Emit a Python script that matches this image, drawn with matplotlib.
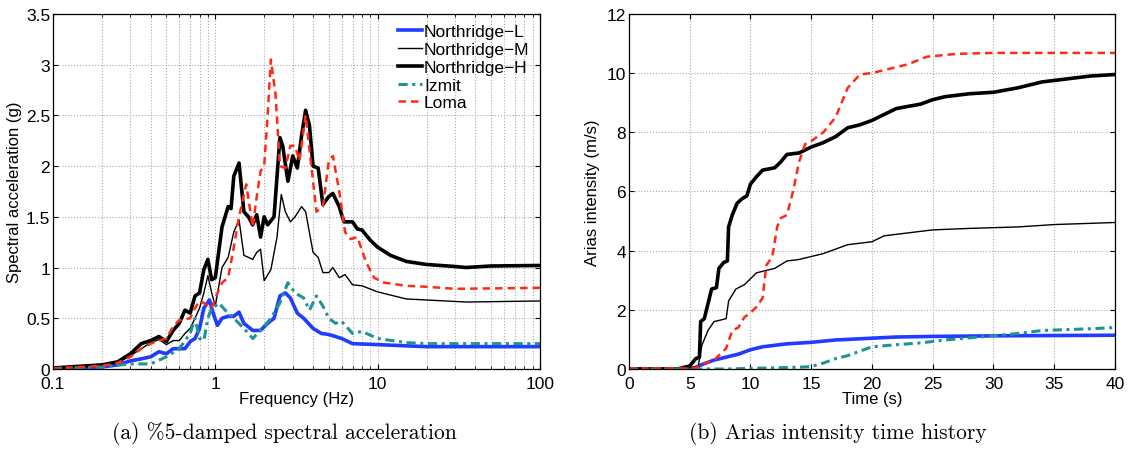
import matplotlib
matplotlib.use("Agg")
import matplotlib.pyplot as plt
import numpy as np

plt.rcParams['font.family'] = ['Liberation Sans', 'DejaVu Sans']

# ---- (a) spectral acceleration ----
f_H = [0.1, 0.2, 0.25, 0.3, 0.35, 0.4, 0.45, 0.5, 0.55, 0.6, 0.65, 0.7, 0.75, 0.8, 0.85, 0.9, 0.95, 1.0,
       1.1, 1.2, 1.25, 1.3, 1.4, 1.5, 1.6, 1.7, 1.8, 1.9, 2.0, 2.1, 2.3, 2.5, 2.6, 2.8, 3.0, 3.2, 3.4, 3.6,
       3.8, 4.0, 4.3, 4.6, 5.0, 5.3, 5.8, 6.2, 7.0, 7.5, 8.0, 9.0, 10, 12, 15, 20, 30, 35, 50, 100]
sa_H = [0.01, 0.04, 0.07, 0.15, 0.25, 0.28, 0.32, 0.27, 0.38, 0.45, 0.58, 0.55, 0.72, 0.75, 0.98, 1.08, 0.88, 0.9,
        1.4, 1.6, 1.58, 1.9, 2.03, 1.55, 1.5, 1.42, 1.52, 1.3, 1.5, 1.42, 1.5, 2.28, 2.2, 1.85, 2.1, 1.98, 2.3, 2.55,
        2.4, 2.0, 1.98, 1.62, 1.7, 1.73, 1.6, 1.45, 1.45, 1.38, 1.37, 1.27, 1.2, 1.12, 1.06, 1.03, 1.01, 1.0, 1.015, 1.02]

f_M = [0.1, 0.25, 0.3, 0.35, 0.4, 0.45, 0.5, 0.55, 0.6, 0.65, 0.7, 0.75, 0.8, 0.85, 0.9, 0.95, 1.0,
       1.1, 1.2, 1.3, 1.4, 1.5, 1.6, 1.7, 1.8, 1.9, 2.0, 2.2, 2.4, 2.55, 2.7, 2.9, 3.1, 3.4, 3.6,
       4.0, 4.3, 4.6, 5.0, 5.3, 5.8, 6.3, 7.0, 8.0, 10, 15, 20, 35, 100]
sa_M = [0.01, 0.06, 0.13, 0.2, 0.26, 0.29, 0.24, 0.28, 0.28, 0.35, 0.4, 0.5, 0.6, 0.75, 0.92, 0.75, 0.62,
        1.0, 1.1, 1.35, 1.47, 1.12, 1.1, 1.08, 1.15, 1.18, 0.87, 0.98, 1.3, 1.72, 1.55, 1.45, 1.5, 1.6, 1.55,
        1.15, 1.1, 0.95, 0.95, 1.0, 0.9, 0.93, 0.83, 0.82, 0.76, 0.69, 0.68, 0.66, 0.67]

f_Lo = [0.1, 0.2, 0.25, 0.3, 0.35, 0.4, 0.45, 0.5, 0.55, 0.6, 0.7, 0.75, 0.8, 0.85, 0.95, 1.0, 1.1, 1.2,
        1.3, 1.4, 1.55, 1.7, 1.8, 1.9, 2.0, 2.1, 2.2, 2.35, 2.5, 2.7, 2.9, 3.1, 3.3, 3.6, 3.9, 4.2, 4.6,
        5.0, 5.3, 5.8, 6.3, 6.8, 7.5, 8.5, 9.5, 11, 15, 20, 30, 100]
sa_Lo = [0.005, 0.03, 0.06, 0.12, 0.2, 0.25, 0.28, 0.3, 0.42, 0.48, 0.5, 0.6, 0.67, 0.65, 0.6, 0.7, 0.85, 0.9,
         1.2, 1.5, 1.82, 1.4, 1.7, 1.95, 2.0, 2.5, 3.05, 2.7, 2.0, 1.98, 2.2, 2.2, 2.05, 2.5, 2.0, 1.55, 1.6,
         2.05, 2.1, 1.75, 1.35, 1.28, 1.3, 1.05, 0.9, 0.85, 0.82, 0.81, 0.79, 0.8]

f_L = [0.1, 0.2, 0.25, 0.3, 0.35, 0.4, 0.45, 0.5, 0.55, 0.6, 0.65, 0.7, 0.75, 0.8, 0.85, 0.92, 0.97, 1.03,
       1.1, 1.2, 1.3, 1.4, 1.5, 1.7, 1.9, 2.1, 2.3, 2.5, 2.7, 2.9, 3.2, 3.5, 4.0, 4.5, 5.0, 5.5, 6.0, 7.0,
       10, 20, 100]
sa_L = [0.005, 0.02, 0.04, 0.08, 0.1, 0.12, 0.17, 0.15, 0.2, 0.2, 0.2, 0.27, 0.3, 0.4, 0.6, 0.68, 0.55, 0.43,
        0.5, 0.52, 0.52, 0.56, 0.45, 0.38, 0.38, 0.45, 0.5, 0.72, 0.75, 0.7, 0.55, 0.5, 0.4, 0.35, 0.34, 0.32, 0.3, 0.25,
        0.24, 0.22, 0.22]

f_I = [0.1, 0.2, 0.3, 0.4, 0.5, 0.6, 0.7, 0.75, 0.8, 0.85, 0.9, 0.95, 1.0, 1.05, 1.15, 1.3, 1.5, 1.7, 1.9,
       2.2, 2.5, 2.8, 3.1, 3.5, 3.8, 4.2, 4.6, 5.0, 5.5, 6.0, 7.0, 8.0, 10, 15, 20, 100]
sa_I = [0.005, 0.02, 0.05, 0.05, 0.12, 0.2, 0.35, 0.5, 0.3, 0.28, 0.5, 0.6, 0.62, 0.65, 0.58, 0.5, 0.4, 0.3, 0.38,
        0.5, 0.65, 0.85, 0.75, 0.7, 0.58, 0.72, 0.62, 0.5, 0.45, 0.47, 0.35, 0.37, 0.3, 0.26, 0.25, 0.25]

# ---- (b) Arias intensity ----
t_H = [0, 4, 5, 5.5, 5.8, 5.9, 6.2, 6.5, 6.8, 7.2, 7.4, 7.8, 8.1, 8.2, 8.5, 8.9, 9.3, 9.7, 10, 10.5, 11, 12,
       12.5, 13, 14, 15, 16, 17, 18, 19, 20, 21, 22, 24, 25, 26, 28, 30, 32, 34, 36, 38, 40]
ia_H = [0, 0, 0.1, 0.35, 0.4, 1.6, 1.7, 2.2, 2.7, 2.75, 3.4, 3.6, 3.65, 4.8, 5.2, 5.6, 5.75, 5.85, 6.25, 6.5, 6.72, 6.8,
        7.0, 7.25, 7.3, 7.5, 7.65, 7.85, 8.15, 8.25, 8.4, 8.6, 8.8, 8.95, 9.1, 9.2, 9.3, 9.35, 9.5, 9.7, 9.8, 9.9, 9.95]

t_M = [0, 4, 5, 5.7, 6, 6.5, 7, 7.5, 8, 8.2, 8.8, 9.5, 10, 10.5, 11, 12, 13, 14, 15, 16, 17, 18, 20, 21, 23,
       25, 28, 32, 35, 40]
ia_M = [0, 0, 0.05, 0.1, 0.8, 1.3, 1.6, 1.65, 1.7, 2.3, 2.7, 2.85, 3.05, 3.25, 3.3, 3.4, 3.65, 3.7, 3.8, 3.9, 4.05,
        4.2, 4.3, 4.5, 4.6, 4.7, 4.75, 4.8, 4.88, 4.95]

t_Lo = [0, 5, 5.5, 6, 7, 7.5, 8, 8.5, 9, 9.5, 10, 10.5, 11, 11.3, 11.8, 12.2, 12.5, 13, 13.5, 14, 14.5, 15,
        16, 17, 18, 19, 20, 21, 23, 24.5, 27, 30, 40]
ia_Lo = [0.02, 0.02, 0.05, 0.15, 0.3, 0.5, 0.7, 1.3, 1.4, 1.75, 1.9, 2.1, 2.4, 3.5, 3.8, 4.8, 5.1, 5.2, 6.0, 7.0,
         7.6, 7.7, 8.0, 8.5, 9.5, 9.95, 10.0, 10.1, 10.3, 10.55, 10.65, 10.68, 10.68]

t_L = [0, 5, 5.5, 6, 7, 8, 9, 10, 11, 12, 13, 15, 17, 20, 22, 25, 30, 40]
ia_L = [0, 0, 0.05, 0.15, 0.3, 0.4, 0.5, 0.65, 0.75, 0.8, 0.85, 0.9, 0.98, 1.04, 1.08, 1.1, 1.12, 1.14]

t_I = [0, 8, 10, 12, 14, 15, 16, 17, 18, 19, 20, 22, 24, 26, 28, 30, 32, 34, 36, 38, 40]
ia_I = [0, 0, 0.02, 0.04, 0.06, 0.08, 0.2, 0.35, 0.45, 0.6, 0.75, 0.82, 0.88, 0.98, 1.05, 1.12, 1.2, 1.3,
        1.33, 1.36, 1.4]

labels = ['Northridge\u2212L', 'Northridge\u2212M', 'Northridge\u2212H', 'Izmit', 'Loma']
blue = '#1f3cff'
red = '#ff2a14'
teal = '#1f9494'
dashdot = (0, (3, 1.5, 1, 1.5))
dashed = (0, (3, 2))

fig = plt.figure(figsize=(11.29, 4.6), dpi=100)
ax1 = fig.add_axes([0.0469, 0.1957, 0.4314, 0.772])
ax2 = fig.add_axes([0.5571, 0.1957, 0.4305, 0.772])

ax1.plot(f_L, sa_L, color=blue, lw=2.6, label=labels[0])
ax1.plot(f_M, sa_M, color='black', lw=1.0, label=labels[1])
ax1.plot(f_H, sa_H, color='black', lw=2.6, label=labels[2])
ax1.plot(f_I, sa_I, color=teal, lw=2.2, ls=dashdot, label=labels[3])
ax1.plot(f_Lo, sa_Lo, color=red, lw=1.8, ls=dashed, label=labels[4])
ax1.set_xscale('log')
ax1.set_xlim(0.1, 100)
ax1.set_ylim(0, 3.5)
ax1.set_xticks([0.1, 1, 10, 100])
ax1.set_xticklabels(['0.1', '1', '10', '100'])
ax1.set_yticks(np.arange(0, 3.51, 0.5))
ax1.set_yticklabels(['0', '0.5', '1', '1.5', '2', '2.5', '3', '3.5'])
ax1.set_xlabel('Frequency (Hz)', fontsize=12, labelpad=0)
ax1.set_ylabel('Spectral acceleration (g)', fontsize=12, labelpad=3)
ax1.grid(True, which='both', ls=':', color='#aaaaaa', lw=0.8)
ax1.legend(loc='upper right', frameon=False, fontsize=12.5, handlelength=1.4,
           handletextpad=0.1, labelspacing=0.15, borderaxespad=0.3, borderpad=0.3)

ax2.plot(t_L, ia_L, color=blue, lw=2.6)
ax2.plot(t_M, ia_M, color='black', lw=1.0)
ax2.plot(t_H, ia_H, color='black', lw=2.6)
ax2.plot(t_I, ia_I, color=teal, lw=2.2, ls=dashdot)
ax2.plot(t_Lo, ia_Lo, color=red, lw=1.8, ls=dashed)
ax2.set_xlim(0, 40)
ax2.set_ylim(0, 12)
ax2.set_xticks(np.arange(0, 41, 5))
ax2.set_yticks(np.arange(0, 13, 2))
ax2.set_xlabel('Time (s)', fontsize=12, labelpad=0)
ax2.set_ylabel('Arias intensity (m/s)', fontsize=12, labelpad=5)
ax2.grid(True, ls=':', color='#aaaaaa', lw=0.8)

for ax in (ax1, ax2):
    ax.tick_params(direction='in', which='both', labelsize=12.5, top=True, right=True)
    ax.tick_params(axis='x', pad=5)
    ax.tick_params(axis='y', pad=2)
    for s in ax.spines.values():
        s.set_linewidth(0.9)

cap = ['cmr10', 'Liberation Serif', 'DejaVu Serif']
fig.text(0.252, 0.058, '(a) %5-damped spectral acceleration', ha='center', va='center',
         fontsize=15.5, family=cap)
fig.text(0.742, 0.058, '(b) Arias intensity time history', ha='center', va='center',
         fontsize=15.5, family=cap)

fig.savefig('out.png', dpi=100)
